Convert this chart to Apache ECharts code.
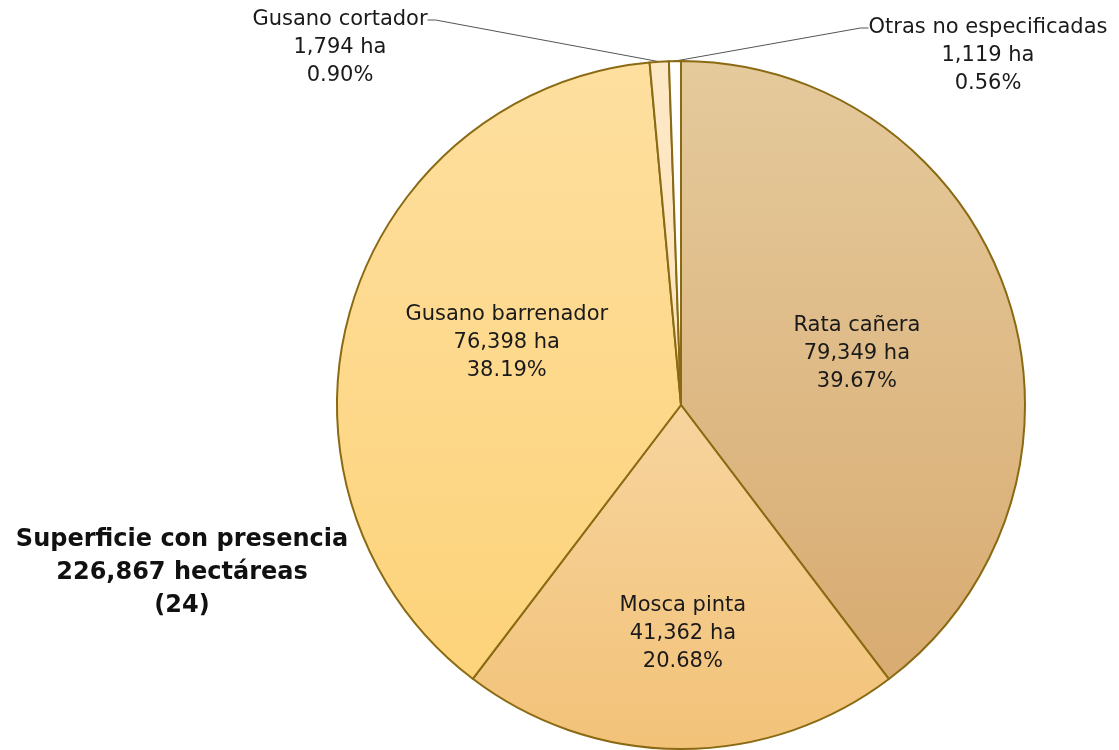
<!DOCTYPE html>
<html>
<head>
<meta charset="utf-8">
<script src="https://cdn.jsdelivr.net/npm/echarts@6/dist/echarts.min.js"></script>
<style>
  html, body { margin: 0; padding: 0; background: #fff; }
  #main { width: 1119px; height: 750px; }
</style>
</head>
<body>
<div id="main"></div>
<script>
// datos de la gráfica
const categories = ["Rata cañera", "Mosca pinta", "Gusano barrenador", "Gusano cortador", "Otras no especificadas"];
const hectareas = [79349, 41362, 76398, 1794, 1119];
const porcentajes = [39.67, 20.68, 38.19, 0.90, 0.56];
const totalTexto = ["Superficie con presencia", "226,867 hectáreas", "(24)"];

// colores de cada rebanada (arriba, abajo)
const sliceColors = [
  ["#E5CA9C", "#D8AB71"],
  ["#F7D49E", "#F2C278"],
  ["#FEDF9F", "#FDD37A"],
  ["#FDE8C6", "#FDE4BC"],
  ["#FFFFFF", "#FFFFFF"],
];

const FONT = "DejaVu Sans";

const chart = echarts.init(document.getElementById("main"));

const fmt = (p) =>
  p.name + "\n" + p.value.toLocaleString("en-US") + " ha\n" + porcentajes[p.dataIndex].toFixed(2) + "%";

// serie principal
const seriesData = categories.map((name, i) => ({
  name,
  value: hectareas[i],
  itemStyle: {
    color: {
      type: "linear", x: 0, y: 0, x2: 0, y2: 1,
      colorStops: [
        { offset: 0, color: sliceColors[i][0] },
        { offset: 1, color: sliceColors[i][1] },
      ],
    },
  },
  label: { position: i >= 3 ? "outside" : "inside" },
  labelLine: { show: false },
}));

// serie transparente solo para las líneas guía de las rebanadas chicas
const lineData = categories.map((name, i) => ({
  name,
  value: hectareas[i],
  label: { show: i >= 3 },
  labelLine: { show: i >= 3 },
}));

// ajustes de etiquetas
const innerOffsets = { "Rata cañera": [10, 4], "Mosca pinta": [2, 54], "Gusano barrenador": [-6, -14] };
const outerPos = { "Gusano cortador": [340, 48], "Otras no especificadas": [988, 56] };
const outerLinePos = { "Gusano cortador": [340, 20], "Otras no especificadas": [988, 28] };

const labelFont = { fontFamily: FONT, fontSize: 21, color: "#1a1a1a", lineHeight: 28, align: "center" };

const option = {
  backgroundColor: "#fff",
  animation: false,
  graphic: [
    {
      type: "text",
      x: 182,
      y: 523,
      style: {
        text: totalTexto.join("\n"),
        font: "bold 24px '" + FONT + "'",
        fill: "#111",
        align: "center",
        lineHeight: 33,
      },
    },
  ],
  series: [
    {
      type: "pie",
      center: [681, 405],
      radius: 344,
      startAngle: 90,
      clockwise: true,
      data: seriesData,
      itemStyle: { borderColor: "#8A6A12", borderWidth: 2 },
      label: Object.assign({}, labelFont, { show: true, formatter: fmt }),
      labelLayout: (params) => {
        const name = categories[params.dataIndex];
        if (outerPos[name]) {
          return { x: outerPos[name][0], y: outerPos[name][1], align: "center", verticalAlign: "middle" };
        }
        const off = innerOffsets[name];
        return { dx: off[0], dy: off[1] };
      },
      emphasis: { disabled: true },
      z: 2,
    },
    {
      type: "pie",
      center: [681, 405],
      radius: 344,
      startAngle: 90,
      clockwise: true,
      silent: true,
      data: lineData,
      itemStyle: { color: "rgba(0,0,0,0)", borderWidth: 0 },
      label: Object.assign({}, labelFont, { position: "outside", formatter: "{b}", color: "rgba(0,0,0,0)" }),
      labelLine: { lineStyle: { color: "#555", width: 1 }, length: 20, length2: 8 },
      labelLayout: (params) => {
        const name = categories[params.dataIndex];
        if (outerLinePos[name]) {
          return { x: outerLinePos[name][0], y: outerLinePos[name][1], align: "center", verticalAlign: "middle" };
        }
        return {};
      },
      emphasis: { disabled: true },
      z: 1,
    },
  ],
};

chart.setOption(option);
</script>
</body>
</html>
